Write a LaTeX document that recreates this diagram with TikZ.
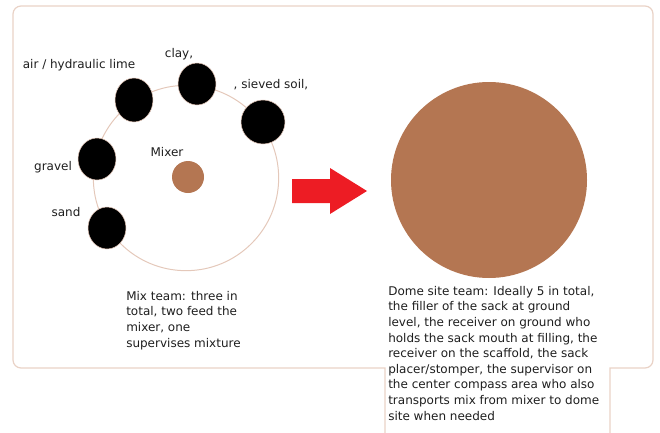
\documentclass[tikz,border=0pt]{standalone}
\usepackage{fontspec}
\setmainfont{DejaVu Sans}
\usetikzlibrary{shapes.geometric}
\definecolor{paleedge}{RGB}{233,210,198}
\definecolor{mud}{RGB}{180,118,82}
\definecolor{ringline}{RGB}{228,200,186}
\definecolor{arrowred}{RGB}{237,28,36}
\definecolor{ink}{RGB}{30,30,30}

\begin{document}
\begin{tikzpicture}[x=0.75pt,y=-0.75pt]
    \tikzset{
        % every node/.style={draw},
        every node/.style={font=\fontsize{9}{11.7}\selectfont, text=ink},
        ingredient/.style={ellipse, fill=black, draw=ringline, line width=0.4pt,
            minimum width=28.5pt, minimum height=33pt, inner sep=0pt},
        mixlabel/.style={inner sep=0pt},
        teamtext/.style={inner sep=0pt, anchor=north west, align=left}
    }
    \useasboundingbox (0,0) rectangle (660,432);
    % outline of the sheet, with the dome text sticking out at the bottom
    \draw[paleedge, line width=0.9pt] (385,445) -- (385,368)
        {[rounded corners=6pt] -- (13,368) -- (13,6) -- (653,6) -- (653,368)}
        -- (610,368) -- (610,445);
    % mix area
    \node[circle, draw=ringline, line width=0.75pt, minimum size=139pt, inner sep=0pt] (ring) at (186,178) {};
    \node[circle, fill=mud, minimum size=24pt, inner sep=0pt] (mixer) at (188,177) {};
    \node[mixlabel] (mixerlabel) at (167,152) {Mixer};
    \node[ingredient] (lime) at (134,100) {};
    \node[ingredient, minimum height=31.5pt] (clay) at (197,84) {};
    \node[ingredient, minimum width=33pt] (soil) at (263,122) {};
    \node[ingredient, minimum height=31.5pt] (gravel) at (97,159) {};
    \node[ingredient, minimum height=31.5pt] (sand) at (107,228) {};
    \node[mixlabel] (limelabel) at (79,65) {air / hydraulic lime};
    \node[mixlabel] (claylabel) at (179,54) {clay,};
    \node[mixlabel] (soillabel) at (271,85) {, sieved soil,};
    \node[mixlabel] (gravellabel) at (53,167) {gravel};
    \node[mixlabel] (sandlabel) at (66,212) {sand};
    \node[teamtext] (mixteam) at (126,291) {Mix team: three in\\total, two feed the\\mixer, one\\supervises mixture};
    % arrow to the dome
    \coordinate (tail) at (292,191);
    \fill[arrowred] (tail) ++(0,-12) -- ++(38,0) -- ++(0,-11) -- (367,191)
        -- (330,214) -- ++(0,-11) -- (292,203) -- cycle;
    % dome site
    \node[circle, fill=mud, minimum size=147pt, inner sep=0pt] (dome) at (489,180) {};
    \node[teamtext] (dometeam) at (388,286) {Dome site team: Ideally 5 in total,\\the filler of the sack at ground\\level, the receiver on ground who\\holds the sack mouth at filling, the\\receiver on the scaffold, the sack\\placer/stomper, the supervisor on\\the center compass area who also\\transports mix from mixer to dome\\site when needed};
\end{tikzpicture}
\end{document}
